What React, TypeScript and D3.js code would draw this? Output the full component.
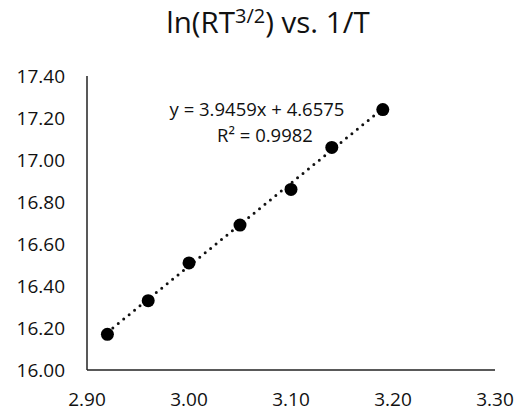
import * as d3 from 'd3';
import { useEffect, useRef } from 'react';

const invT = [2.92, 2.96, 3.0, 3.05, 3.1, 3.14, 3.19];
const lnRT = [16.17, 16.33, 16.51, 16.69, 16.86, 17.06, 17.24];
const xTicks = [2.9, 3.0, 3.1, 3.2, 3.3];
const yTicks = [16.0, 16.2, 16.4, 16.6, 16.8, 17.0, 17.2, 17.4];
const slope = 3.9459;
const intercept = 4.6575;
const equationLabel = 'y = 3.9459x + 4.6575';
const r2Label = 'R² = 0.9982';

export default function App() {
    const ref = useRef<SVGSVGElement | null>(null);

    useEffect(() => {
        const svg = d3.select(ref.current);
        svg.selectAll('*').remove();

        const width = 517;
        const height = 413;
        const font = "'Open Sans', sans-serif";

        const x = d3.scaleLinear().domain([2.9, 3.3]).range([87, 495]);
        const y = d3.scaleLinear().domain([16.0, 17.4]).range([370, 76]);

        svg.attr('width', width).attr('height', height);

        svg.append('rect').attr('width', width).attr('height', height).attr('fill', '#fff');

        // title
        const title = svg.append('text')
            .attr('x', 268)
            .attr('y', 33)
            .attr('text-anchor', 'middle')
            .attr('font-family', font)
            .attr('font-size', 29.5)
            .attr('fill', '#111');
        title.append('tspan').text('ln(RT');
        title.append('tspan').attr('font-size', 20).attr('dy', -10).text('3/2');
        title.append('tspan').attr('dy', 10).text(') vs. 1/T');

        // axes lines
        svg.append('line')
            .attr('x1', x(2.9)).attr('x2', x(2.9))
            .attr('y1', y(17.4)).attr('y2', y(16.0))
            .attr('stroke', '#222').attr('stroke-width', 1.5);
        svg.append('line')
            .attr('x1', x(2.9)).attr('x2', x(3.3))
            .attr('y1', y(16.0)).attr('y2', y(16.0))
            .attr('stroke', '#222').attr('stroke-width', 1.5);

        // tick labels
        svg.append('g')
            .selectAll('text')
            .data(yTicks)
            .join('text')
            .attr('x', 65)
            .attr('y', d => y(d))
            .attr('dy', '0.35em')
            .attr('text-anchor', 'end')
            .attr('font-family', font)
            .attr('font-size', 19)
            .attr('fill', '#111')
            .text(d => d.toFixed(2));

        svg.append('g')
            .selectAll('text')
            .data(xTicks)
            .join('text')
            .attr('x', d => x(d))
            .attr('y', 399)
            .attr('dy', '0.35em')
            .attr('text-anchor', 'middle')
            .attr('font-family', font)
            .attr('font-size', 19)
            .attr('fill', '#111')
            .text(d => d.toFixed(2));

        // trendline
        const x0 = d3.min(invT)!;
        const x1 = d3.max(invT)!;
        svg.append('line')
            .attr('x1', x(x0)).attr('y1', y(slope * x0 + intercept))
            .attr('x2', x(x1)).attr('y2', y(slope * x1 + intercept))
            .attr('stroke', '#111')
            .attr('stroke-width', 3)
            .attr('stroke-linecap', 'round')
            .attr('stroke-dasharray', '0 7');

        // points
        svg.append('g')
            .selectAll('circle')
            .data(invT.map((v, i) => [v, lnRT[i]]))
            .join('circle')
            .attr('cx', d => x(d[0]))
            .attr('cy', d => y(d[1]))
            .attr('r', 6.5)
            .attr('fill', '#000');

        // equation
        svg.append('text')
            .attr('x', 257)
            .attr('y', 116)
            .attr('text-anchor', 'middle')
            .attr('font-family', font)
            .attr('font-size', 18.5)
            .attr('fill', '#111')
            .text(equationLabel);
        svg.append('text')
            .attr('x', 265)
            .attr('y', 142)
            .attr('text-anchor', 'middle')
            .attr('font-family', font)
            .attr('font-size', 18.5)
            .attr('fill', '#111')
            .text(r2Label);
    }, []);

    return <svg ref={ref} style={{ position: 'absolute', left: 0, top: 0 }}></svg>;
}
